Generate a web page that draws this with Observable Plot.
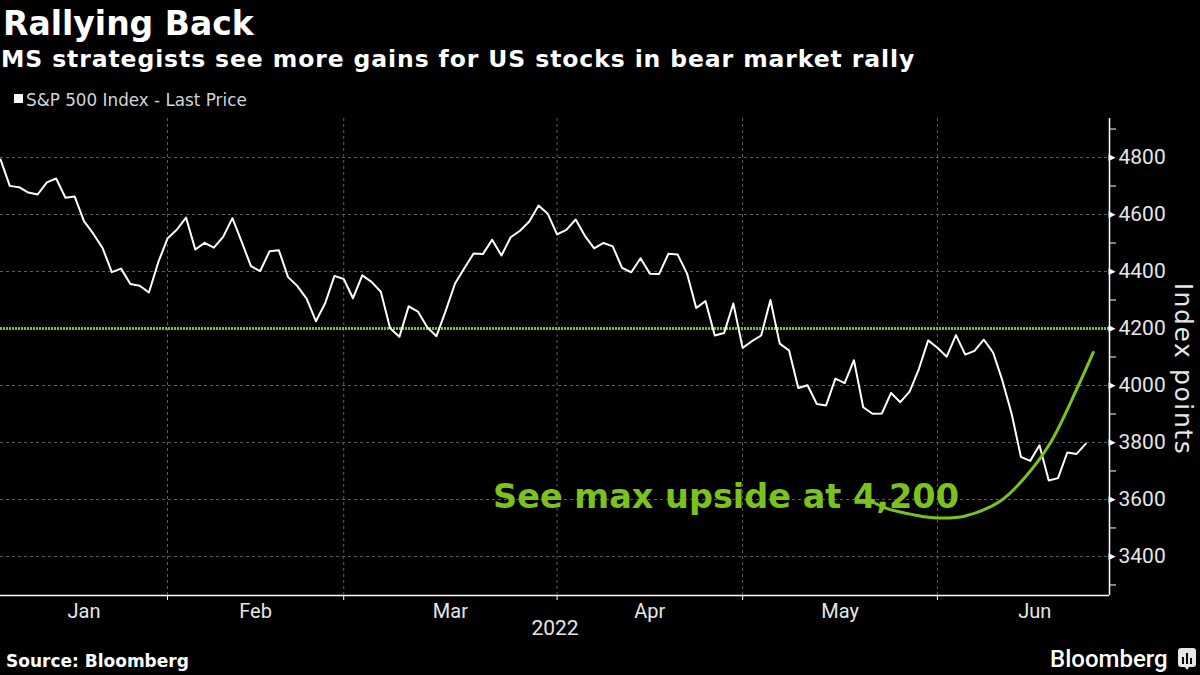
<!DOCTYPE html>
<html><head><meta charset="utf-8">
<script src="https://cdn.jsdelivr.net/npm/d3@7"></script>
<script src="https://cdn.jsdelivr.net/npm/@observablehq/plot@0.6"></script>
<style>
html,body{margin:0;padding:0;background:#000;width:1200px;height:675px;overflow:hidden;}
#wrap{position:relative;width:1200px;height:675px;background:#000;color:#fff;font-family:"DejaVu Sans",sans-serif;}
.abs{position:absolute;white-space:nowrap;line-height:1;}
#title{left:3px;top:7px;font-size:33px;font-weight:bold;}
#subtitle{left:1px;top:48px;font-size:23.5px;font-weight:bold;letter-spacing:0.9px;}
#legend{left:26px;top:92px;font-size:16.8px;color:#d4d4d4;}
#legsq{position:absolute;left:14px;top:94px;width:9px;height:9px;background:#fff;}
#chart{position:absolute;left:0;top:108px;}
#source{left:6px;top:653px;font-size:17px;font-weight:bold;}
#brand{left:1050px;top:647px;font-family:Roboto,sans-serif;font-weight:500;font-size:24px;}
#icon{position:absolute;left:1178px;top:648px;}
</style></head>
<body><div id="wrap">
<div id="title" class="abs">Rallying Back</div>
<div id="subtitle" class="abs">MS strategists see more gains for US stocks in bear market rally</div>
<div id="legsq"></div>
<div id="legend" class="abs">S&amp;P 500 Index - Last Price</div>
<div id="chart"></div>
<div id="source" class="abs">Source: Bloomberg</div>
<div id="brand" class="abs">Bloomberg</div>
<svg id="icon" width="18" height="23" viewBox="0 0 18 23"><path d="M3 0h12a3 3 0 0 1 3 3v13a3 3 0 0 1-3 3h-4l-2 3-2-3H3a3 3 0 0 1-3-3V3a3 3 0 0 1 3-3z" fill="#e6e6e6"/><rect x="4" y="9" width="2" height="7" fill="#000"/><rect x="8" y="5" width="2" height="11" fill="#000"/><rect x="12" y="10" width="2" height="6" fill="#000"/></svg>
</div>
<script>
// ---- data ----
const dates = [
"2022-01-03","2022-01-04","2022-01-05","2022-01-06","2022-01-07","2022-01-10","2022-01-11","2022-01-12","2022-01-13","2022-01-14",
"2022-01-18","2022-01-19","2022-01-20","2022-01-21","2022-01-24","2022-01-25","2022-01-26","2022-01-27","2022-01-28","2022-01-31",
"2022-02-01","2022-02-02","2022-02-03","2022-02-04","2022-02-07","2022-02-08","2022-02-09","2022-02-10","2022-02-11","2022-02-14",
"2022-02-15","2022-02-16","2022-02-17","2022-02-18","2022-02-22","2022-02-23","2022-02-24","2022-02-25","2022-02-28",
"2022-03-01","2022-03-02","2022-03-03","2022-03-04","2022-03-07","2022-03-08","2022-03-09","2022-03-10","2022-03-11","2022-03-14",
"2022-03-15","2022-03-16","2022-03-17","2022-03-18","2022-03-21","2022-03-22","2022-03-23","2022-03-24","2022-03-25","2022-03-28",
"2022-03-29","2022-03-30","2022-03-31",
"2022-04-01","2022-04-04","2022-04-05","2022-04-06","2022-04-07","2022-04-08","2022-04-11","2022-04-12","2022-04-13","2022-04-14",
"2022-04-18","2022-04-19","2022-04-20","2022-04-21","2022-04-22","2022-04-25","2022-04-26","2022-04-27","2022-04-28","2022-04-29",
"2022-05-02","2022-05-03","2022-05-04","2022-05-05","2022-05-06","2022-05-09","2022-05-10","2022-05-11","2022-05-12","2022-05-13",
"2022-05-16","2022-05-17","2022-05-18","2022-05-19","2022-05-20","2022-05-23","2022-05-24","2022-05-25","2022-05-26","2022-05-27",
"2022-05-31",
"2022-06-01","2022-06-02","2022-06-03","2022-06-06","2022-06-07","2022-06-08","2022-06-09","2022-06-10","2022-06-13","2022-06-14",
"2022-06-15","2022-06-16","2022-06-17","2022-06-21","2022-06-22","2022-06-23"
];
const closes = [
4796.56,4793.54,4700.58,4696.05,4677.03,4670.29,4713.07,4726.35,4659.03,4662.85,
4577.11,4532.76,4482.73,4397.94,4410.13,4356.45,4349.93,4326.51,4431.85,4515.55,
4546.54,4589.38,4477.44,4500.53,4483.87,4521.54,4587.18,4504.08,4418.64,4401.67,
4471.07,4475.01,4380.26,4348.87,4304.76,4225.50,4288.70,4384.65,4373.94,
4306.26,4386.54,4363.49,4328.87,4201.09,4170.70,4277.88,4259.52,4204.31,4173.11,
4262.45,4357.86,4411.67,4463.12,4461.18,4511.61,4456.24,4520.16,4543.06,4575.52,
4631.60,4602.45,4530.41,
4545.86,4582.64,4525.12,4481.15,4500.21,4488.28,4412.53,4397.45,4446.59,4392.59,
4391.69,4462.21,4459.45,4393.66,4271.78,4296.12,4175.20,4183.96,4287.50,4131.93,
4155.38,4175.48,4300.17,4146.87,4123.34,3991.24,4001.05,3935.18,3930.08,4023.89,
4008.01,4088.85,3923.68,3900.79,3901.36,3973.75,3941.48,3978.73,4057.84,4158.24,
4132.15,
4101.23,4176.82,4108.54,4121.43,4160.68,4115.77,4017.82,3900.86,3749.63,3735.48,
3789.99,3666.77,3674.84,3764.79,3759.89,3795.73
];
const monthNames = ["Jan","Feb","Mar","Apr","May","Jun"];
const yearLabel = "2022";
const yLabel = "Index points";
const yMajor = [3400,3600,3800,4000,4200,4400,4600,4800];
const yMinor = [3300,3500,3700,3900,4100,4300,4500,4700,4900];
const target = [4200];
const yDomain = [3263, 4937];
const xDomain = [1, 120.55];          // trading-day index range shown
// hand-drawn upside arc (trading-day index, index level)
const arcIdx = [94.5, 96.6, 99.5, 102, 105, 108.8, 111.5, 114.2, 117.2, 118.8];
const arcVal = [3600, 3568, 3546, 3535, 3542, 3595, 3680, 3800, 4000, 4116];
const note = "See max upside at 4,200";
const noteAt = [54.1, 3607];

// ---- derived ----
const parse = d3.utcParse("%Y-%m-%d");
const series = dates.map((d, i) => ({i, date: parse(d), v: closes[i]}));
const arc = arcIdx.map((x, k) => ({i: x, v: arcVal[k]}));
const groups = d3.groups(series, d => d.date.getUTCMonth());
const monthEnd = groups.map(([, arr]) => arr[arr.length - 1].i);
const last = series[series.length - 1];
const nextDay = d3.utcDay.offset(last.date, 1);
const extra = d3.utcDay.range(nextDay, d3.utcMonth.ceil(nextDay)).filter(d => d.getUTCDay() % 6 !== 0).length;
monthEnd[monthEnd.length - 1] = last.i + extra;
const boundaries = monthEnd.slice(0, -1);
const labelPos = monthEnd.map((e, k) => ((k === 0 ? xDomain[0] : monthEnd[k - 1]) + e) / 2);

const green = "#7cc21e";
const grid = "#5e5e5e";

const chart = Plot.plot({
  width: 1200, height: 540,
  marginLeft: 0, marginRight: 91, marginTop: 10, marginBottom: 53,
  style: {background: "#000", color: "#e6e6e6", fontFamily: "Roboto, sans-serif", overflow: "visible"},
  x: {domain: xDomain, axis: null},
  y: {domain: yDomain, axis: null},
  marks: [
    Plot.ruleY(yMajor.filter(v => !target.includes(v)), {stroke: grid, strokeDasharray: "3,3"}),
    Plot.ruleX(boundaries, {stroke: grid, strokeDasharray: "3,3"}),
    Plot.ruleY(target, {stroke: green, strokeWidth: 3, strokeDasharray: "2,1"}),
    Plot.line(series, {x: "i", y: "v", stroke: "#fff", strokeWidth: 2, clip: true}),
    Plot.text([note], {x: () => noteAt[0], y: () => noteAt[1], text: d => d, textAnchor: "start",
      fontSize: 33.5, fontWeight: "bold", fontFamily: "DejaVu Sans", fill: green}),
    Plot.line(arc, {x: "i", y: "v", curve: "catmull-rom", stroke: green, strokeWidth: 3}),
    Plot.ruleX([xDomain[1]], {stroke: "#fff", strokeWidth: 1.5}),
    Plot.ruleY([yDomain[0]], {stroke: "#fff", strokeWidth: 1.5}),
    Plot.axisY(yMinor, {anchor: "right", tickSize: 6, tickFormat: () => "", label: null, color: "#fff"}),
    Plot.axisY(yMajor, {anchor: "right", tickSize: 0, tickPadding: 9, fontSize: 21, label: null,
      tickFormat: d => String(d)}),
    Plot.text(yMajor, {x: () => xDomain[1], y: d => d, text: () => "\u25B6", textAnchor: "start",
      fontSize: 9, fontFamily: "DejaVu Sans", fill: "#fff", dx: -1}),
    Plot.axisX(boundaries, {tickSize: 5, tickFormat: () => "", label: null, color: "#fff"}),
    Plot.axisX(labelPos, {tickSize: 0, tickPadding: 8, fontSize: 20, label: null,
      tickFormat: d => monthNames[labelPos.indexOf(d)]}),
    Plot.text([yearLabel], {frameAnchor: "bottom", dy: 39, text: d => d, fontSize: 21}),
    Plot.text([yLabel], {frameAnchor: "right", dx: 73, dy: 12, rotate: 90, textAnchor: "middle", lineAnchor: "middle",
      text: d => d, fontSize: 25, fontFamily: "DejaVu Sans"})
  ]
});
chart.querySelectorAll("text").forEach(t => { if (t.textContent === yLabel) t.style.letterSpacing = "1.6px"; });
document.getElementById("chart").appendChild(chart);
</script>
</body></html>
